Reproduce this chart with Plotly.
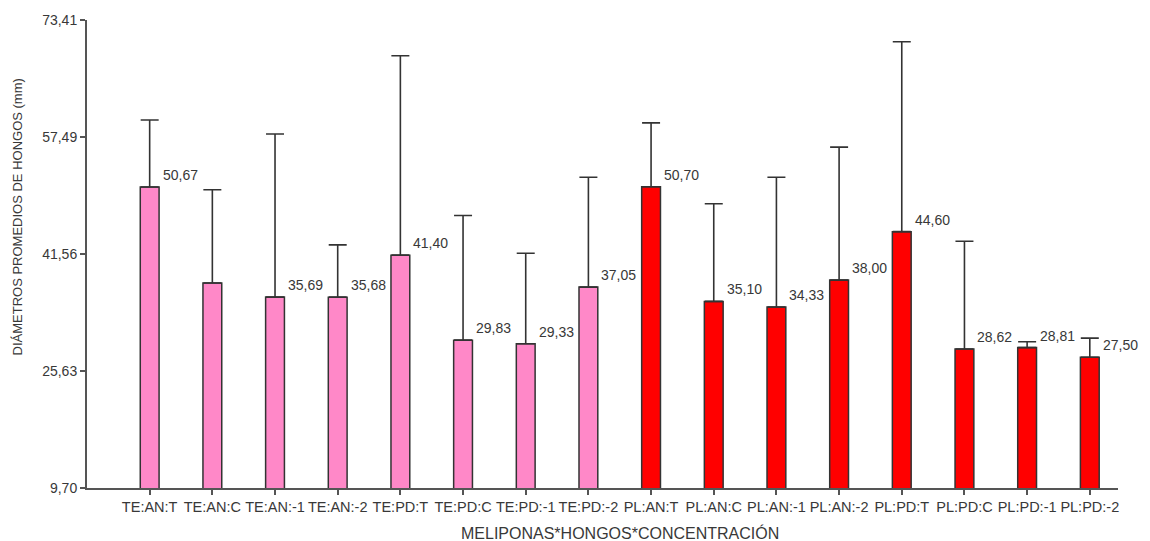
import plotly.graph_objects as go

# Treatment combinations (Meliponas * Hongos * Concentración)
categories = ["TE:AN:T", "TE:AN:C", "TE:AN:-1", "TE:AN:-2", "TE:PD:T", "TE:PD:C", "TE:PD:-1", "TE:PD:-2",
              "PL:AN:T", "PL:AN:C", "PL:AN:-1", "PL:AN:-2", "PL:PD:T", "PL:PD:C", "PL:PD:-1", "PL:PD:-2"]
# Mean fungal diameter (mm)
means = [50.67, 37.60, 35.69, 35.68, 41.40, 29.83, 29.33, 37.05,
         50.70, 35.10, 34.33, 38.00, 44.60, 28.62, 28.81, 27.50]
# Upper end of each error bar (mm)
upper = [59.80, 50.30, 57.90, 42.80, 68.55, 46.80, 41.65, 52.00,
         59.40, 48.40, 52.00, 56.10, 70.45, 43.30, 29.60, 30.10]
# Value labels shown beside bars ("" = no label)
labels = ["50,67", "", "35,69", "35,68", "41,40", "29,83", "29,33", "37,05",
          "50,70", "35,10", "34,33", "38,00", "44,60", "28,62", "28,81", "27,50"]
y_ticks = [9.70, 25.63, 41.56, 57.49, 73.41]
y_ticktext = ["9,70", "25,63", "41,56", "57,49", "73,41"]

PINK = "#FF88C8"
RED = "#FF0000"
TEXT = "#383838"
AXIS = "#555555"
FONT = "Liberation Sans, Arial, sans-serif"

colors = [PINK if c.startswith("TE") else RED for c in categories]
x_idx = list(range(len(categories)))

fig = go.Figure()
fig.add_trace(go.Bar(
    x=x_idx,
    y=means,
    width=0.3,
    marker=dict(color=colors, line=dict(color="#333333", width=1.5)),
    error_y=dict(
        type="data",
        symmetric=False,
        array=[u - m for u, m in zip(upper, means)],
        arrayminus=[0] * len(means),
        color="#333333",
        thickness=1.6,
        width=9,
    ),
    hoverinfo="x+y",
    showlegend=False,
))

for i, (m, lab) in enumerate(zip(means, labels)):
    if lab:
        fig.add_annotation(
            x=i, y=m, text=lab, showarrow=False,
            xanchor="left", yanchor="middle", xshift=11, yshift=12,
            font=dict(family=FONT, size=14, color=TEXT),
        )

fig.add_annotation(
    xref="paper", yref="paper", x=-0.067, y=0.58,
    text="DIÁMETROS PROMEDIOS DE HONGOS (mm)", textangle=-90, showarrow=False,
    xanchor="center", yanchor="middle",
    font=dict(family=FONT, size=13, color=TEXT),
)
fig.add_annotation(
    xref="paper", yref="paper", x=0.517, y=-0.096,
    text="MELIPONAS*HONGOS*CONCENTRACIÓN", showarrow=False,
    xanchor="center", yanchor="middle",
    font=dict(family=FONT, size=16, color=TEXT),
)

fig.update_layout(
    width=1150, height=541,
    margin=dict(l=87, r=32, t=20, b=53),
    paper_bgcolor="white", plot_bgcolor="white",
    bargap=0.7,
    font=dict(family=FONT, size=13, color=TEXT),
)
fig.update_xaxes(
    range=[-1, 15.45],
    tickmode="array", tickvals=x_idx, ticktext=categories,
    ticks="outside", ticklen=5, tickwidth=1.5, tickcolor=AXIS,
    showline=True, linecolor=AXIS, linewidth=2,
    showgrid=False, zeroline=False,
    tickfont=dict(family=FONT, size=14.5, color=TEXT),
)
fig.update_yaxes(
    range=[9.70, 73.41],
    tickmode="array", tickvals=y_ticks, ticktext=y_ticktext,
    ticks="outside", ticklen=5, tickwidth=1.5, tickcolor=AXIS,
    showline=True, linecolor=AXIS, linewidth=2,
    showgrid=False, zeroline=False,
    tickfont=dict(family=FONT, size=14, color=TEXT),
)

fig.write_html("out.html")
